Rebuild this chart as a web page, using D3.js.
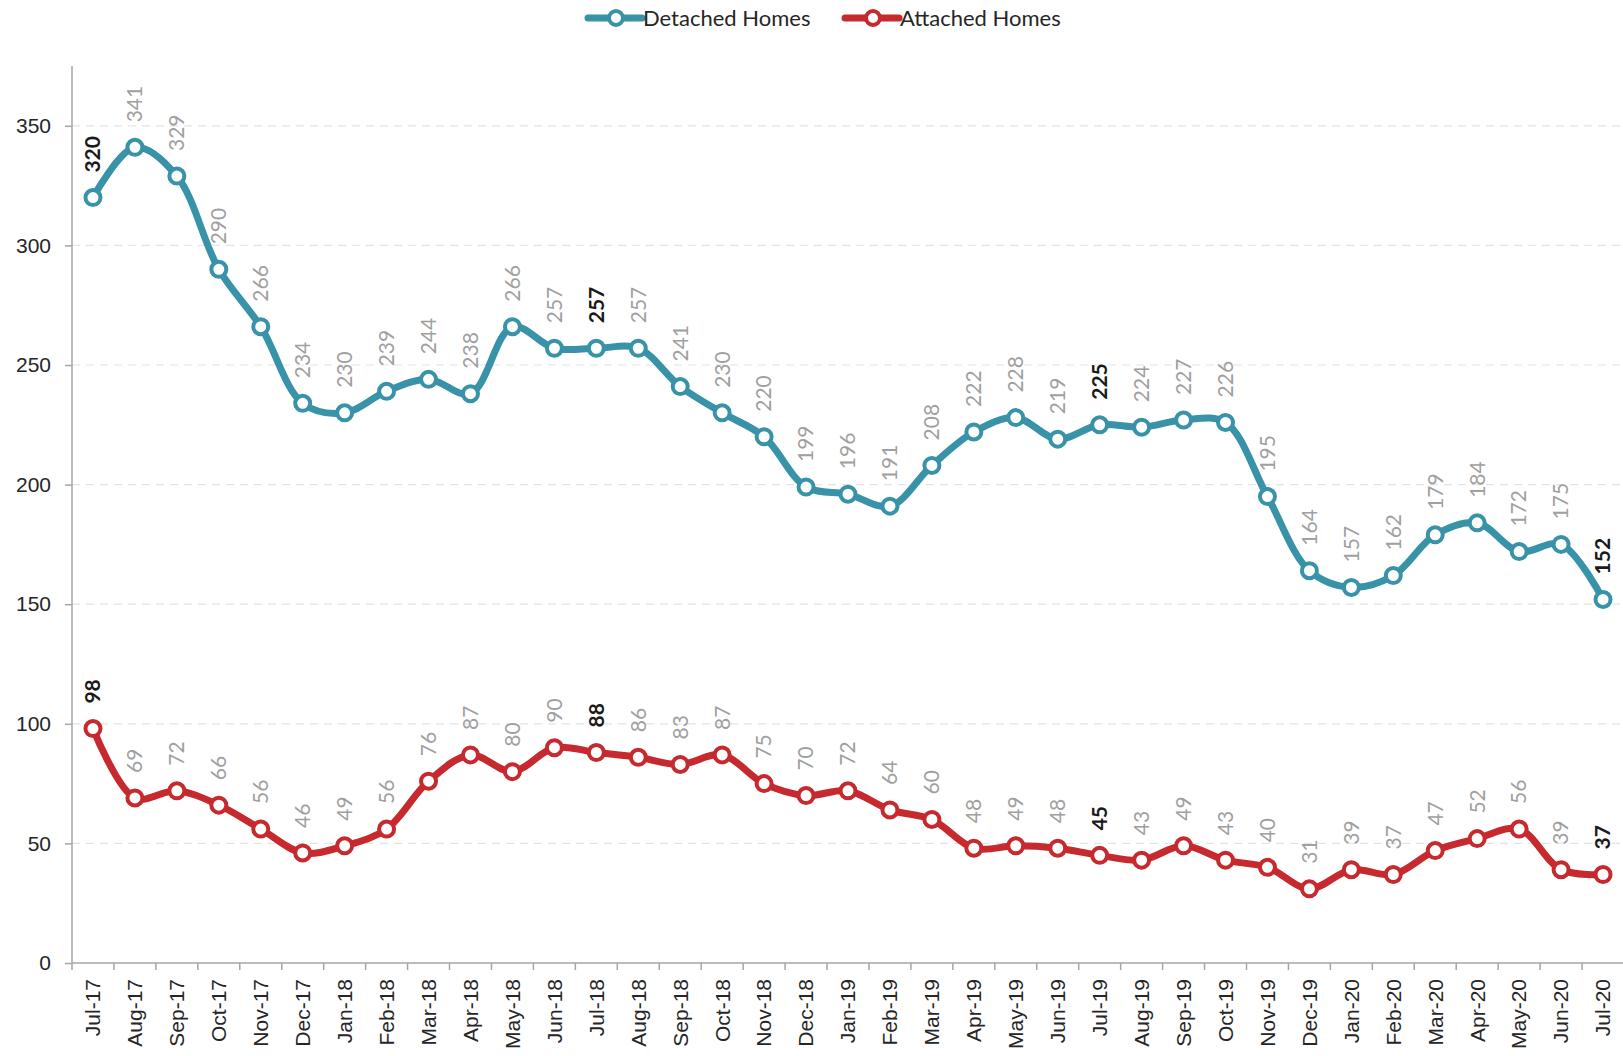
<!DOCTYPE html>
<html>
<head>
<meta charset="utf-8">
<script src="https://cdn.jsdelivr.net/npm/d3@7.9.0/dist/d3.min.js"></script>
<style>
  body { margin: 0; background: #fff; }
  svg { display: block; font-family: Lato, "Open Sans", sans-serif; }
</style>
</head>
<body>
<svg id="chart" width="1623" height="1056"></svg>
<script>
// months from Jul-17 to Jul-20
const months = ["Jul-17","Aug-17","Sep-17","Oct-17","Nov-17","Dec-17","Jan-18","Feb-18","Mar-18","Apr-18","May-18","Jun-18",
  "Jul-18","Aug-18","Sep-18","Oct-18","Nov-18","Dec-18","Jan-19","Feb-19","Mar-19","Apr-19","May-19","Jun-19",
  "Jul-19","Aug-19","Sep-19","Oct-19","Nov-19","Dec-19","Jan-20","Feb-20","Mar-20","Apr-20","May-20","Jun-20","Jul-20"];

const detached = [320,341,329,290,266,234,230,239,244,238,266,257,257,257,241,230,220,199,196,191,208,222,228,219,
  225,224,227,226,195,164,157,162,179,184,172,175,152];
const attached = [98,69,72,66,56,46,49,56,76,87,80,90,88,86,83,87,75,70,72,64,60,48,49,48,
  45,43,49,43,40,31,39,37,47,52,56,39,37];

const yTicks = [0,50,100,150,200,250,300,350];
// July of each year gets a bold label
const boldMonths = ["Jul-17","Jul-18","Jul-19","Jul-20"];

const series = [
  { name: "Detached Homes", values: detached, color: "#3993a8" },
  { name: "Attached Homes", values: attached, color: "#c6292e" }
];

const svg = d3.select("#chart");
const plotLeft = 72, plotRight = 1624, plotTop = 66, plotBottom = 963;

let x = d3.scaleBand().domain(months).range([plotLeft, plotRight]);
let y = d3.scaleLinear().domain([0, 375]).range([plotBottom, plotTop]);

// gridlines
svg.append("g").selectAll("line")
  .data(yTicks.filter(d => d > 0))
  .enter().append("line")
  .attr("x1", plotLeft).attr("x2", 1623)
  .attr("y1", d => y(d)).attr("y2", d => y(d))
  .attr("stroke", "#e4e4e4").attr("stroke-width", 1.2)
  .attr("stroke-dasharray", "8,6");

// y axis
let yAxis = svg.append("g")
  .attr("transform", `translate(${plotLeft},0)`)
  .call(d3.axisLeft(y).tickValues(yTicks).tickSize(7).tickPadding(14));
yAxis.select(".domain").attr("d", `M0,${plotTop}V${plotBottom}`);

// x axis
let xAxis = svg.append("g")
  .attr("transform", `translate(0,${plotBottom})`)
  .call(d3.axisBottom(x).tickSize(0).tickPadding(0));
xAxis.select(".domain").attr("d", `M${plotLeft},0H1623`);
xAxis.selectAll(".tick text")
  .attr("transform", "rotate(-90)")
  .attr("text-anchor", "end")
  .attr("dy", "0.35em")
  .attr("x", -16)
  .attr("y", 0);
// tick marks on category boundaries
xAxis.append("g").selectAll("line")
  .data(months)
  .enter().append("line")
  .attr("x1", d => x(d)).attr("x2", d => x(d))
  .attr("y1", 0).attr("y2", 7)
  .attr("stroke", "#a6a6a6").attr("stroke-width", 1.5);

[yAxis, xAxis].forEach(ax => {
  ax.selectAll(".domain").attr("stroke", "#a6a6a6").attr("stroke-width", 1.5);
  ax.selectAll(".tick line").attr("stroke", "#a6a6a6").attr("stroke-width", 1.5);
  ax.selectAll(".tick text").attr("fill", "#262626").style("font-size", "21px");
});
yAxis.selectAll(".tick text").style("font-size", "21px");

let cx = d => x(d) + x.bandwidth() / 2;

let line = d3.line()
  .x((d, i) => cx(months[i]))
  .y(d => y(d))
  .curve(d3.curveCatmullRom.alpha(0.5));

series.forEach(s => {
  let g = svg.append("g");
  g.append("path")
    .attr("d", line(s.values))
    .attr("fill", "none")
    .attr("stroke", s.color)
    .attr("stroke-width", 7)
    .attr("stroke-linejoin", "round");

  g.selectAll("circle")
    .data(s.values)
    .enter().append("circle")
    .attr("cx", (d, i) => cx(months[i]))
    .attr("cy", d => y(d))
    .attr("r", 7.5)
    .attr("fill", "#fff")
    .attr("stroke", s.color)
    .attr("stroke-width", 4);

  // data labels, rotated
  g.selectAll("text")
    .data(s.values)
    .enter().append("text")
    .attr("transform", (d, i) => `translate(${cx(months[i])},${y(d) - 25}) rotate(-90)`)
    .attr("dy", "0.35em")
    .attr("text-anchor", "start")
    .style("font-size", "21px")
    .style("font-weight", (d, i) => boldMonths.includes(months[i]) ? "bold" : "normal")
    .attr("fill", (d, i) => boldMonths.includes(months[i]) ? "#1a1a1a" : "#a0a0a0")
    .text(d => d);
});

// legend
let legend = svg.append("g");
let legendX = [588, 845];
series.forEach((s, i) => {
  let lg = legend.append("g").attr("transform", `translate(${legendX[i]},18)`);
  lg.append("line")
    .attr("x1", 0).attr("x2", 54)
    .attr("stroke", s.color).attr("stroke-width", 7).attr("stroke-linecap", "round");
  lg.append("circle")
    .attr("cx", 28).attr("r", 7)
    .attr("fill", "#fff").attr("stroke", s.color).attr("stroke-width", 4);
  lg.append("text")
    .attr("x", 55).attr("dy", "0.35em")
    .attr("fill", "#262626")
    .style("font-size", "22px")
    .text(s.name);
});
</script>
</body>
</html>
